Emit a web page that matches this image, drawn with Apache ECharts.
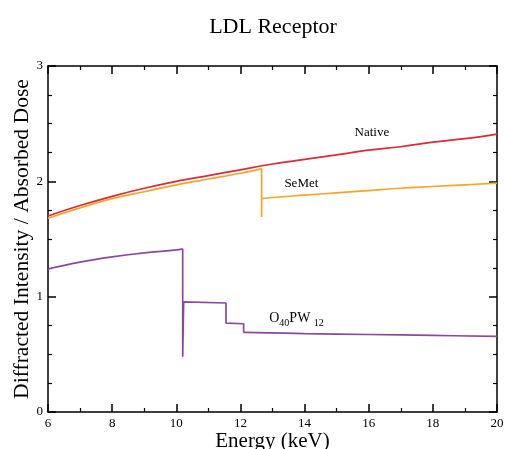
<!DOCTYPE html>
<html><head><meta charset="utf-8">
<script src="https://cdn.jsdelivr.net/npm/echarts@6/dist/echarts.min.js"></script>
<style>html,body{margin:0;padding:0;background:#fff}#c{width:505px;height:449px}</style>
</head><body><div id="c"></div>
<script>
// Native
const nativeX = [6,7,8,9,10,11,12,13,14,15,16,17,18,19,20];
const nativeY = [1.70,1.79,1.87,1.94,2.00,2.05,2.10,2.15,2.19,2.23,2.27,2.30,2.34,2.37,2.41];
// SeMet (before edge, edge jump, after edge)
const semetPreX = [6,7,8,9,10,11,12,12.66];
const semetPreY = [1.68,1.77,1.85,1.91,1.97,2.02,2.07,2.11];
const semetEdgeX = [12.66,12.66,12.66];
const semetEdgeY = [2.11,1.69,1.85];
const semetPostX = [12.66,13,14,15,16,17,18,19,20];
const semetPostY = [1.85,1.86,1.88,1.90,1.92,1.94,1.955,1.97,1.985];
// O40PW12 (before edge, edges, after edge)
const polyPreX = [6,7,8,9,10,10.2];
const polyPreY = [1.24,1.30,1.345,1.38,1.405,1.415];
const polyEdgeX = [10.2,10.2,10.23,11.55,11.55,12.1,12.1];
const polyEdgeY = [1.415,0.48,0.955,0.945,0.77,0.765,0.69];
const polyPostX = [12.1,14,16,18,20];
const polyPostY = [0.69,0.68,0.672,0.664,0.655];
// axis ticks
const xMin = 6, xMax = 20, xStep = 2;
const yMin = 0, yMax = 3, yStep = 1;
// labels
const chartTitle = 'LDL Receptor';
const xTitle = 'Energy (keV)';
const yTitle = 'Diffracted Intensity / Absorbed Dose';

const zip = (xs, ys) => xs.map((x, i) => [x, ys[i]]);
const serif = '"Liberation Serif", "DejaVu Serif", serif';
const RED = '#dc2a36', ORANGE = '#f2a72a', PURPLE = '#8a4a9c';

function lineSeries(data, color, smooth, extra) {
  return Object.assign({
    type: 'line', data: data, symbol: 'none', smooth: smooth,
    lineStyle: { color: color, width: 1.7 }, itemStyle: { color: color },
    animation: false, z: 3
  }, extra || {});
}
function labelPoint(coord, text, fontSize, rich) {
  return {
    symbol: 'circle', symbolSize: 1, itemStyle: { color: 'rgba(0,0,0,0)' },
    label: { show: true, position: 'inside', color: '#000', fontFamily: serif, fontSize: fontSize, formatter: text, rich: rich || {} },
    data: [{ coord: coord }]
  };
}

const chart = echarts.init(document.getElementById('c'), null, { renderer: 'canvas' });
const axisCommon = {
  axisLine: { show: true, onZero: false, lineStyle: { color: '#000', width: 1.5 } },
  axisTick: { show: true, inside: true, length: 8, lineStyle: { color: '#000', width: 1.5 } },
  minorTick: { show: true, length: 4, lineStyle: { color: '#000', width: 1.2 } },
  splitLine: { show: false }
};
chart.setOption({
  backgroundColor: '#fff',
  title: { text: chartTitle, left: 268, top: 11, textAlign: 'center',
    textStyle: { fontFamily: serif, fontSize: 22, fontWeight: 'normal', color: '#000' } },
  grid: { left: 48, right: 8, top: 66, bottom: 37, containLabel: false, outerBoundsMode: 'none' },
  xAxis: [
    Object.assign({}, axisCommon, { type: 'value', min: xMin, max: xMax, interval: xStep,
      minorTick: Object.assign({}, axisCommon.minorTick, { splitNumber: 2 }),
      axisLabel: { color: '#000', fontFamily: serif, fontSize: 13, margin: 5 },
      name: xTitle, nameLocation: 'middle', nameGap: 19, nameMoveOverlap: false,
      nameTextStyle: { color: '#000', fontFamily: serif, fontSize: 21 } }),
    Object.assign({}, axisCommon, { type: 'value', position: 'top', min: xMin, max: xMax, interval: xStep,
      minorTick: Object.assign({}, axisCommon.minorTick, { splitNumber: 2 }),
      axisLabel: { show: false } })
  ],
  yAxis: [
    Object.assign({}, axisCommon, { type: 'value', min: yMin, max: yMax, interval: yStep,
      minorTick: Object.assign({}, axisCommon.minorTick, { splitNumber: 4 }),
      axisLabel: { color: '#000', fontFamily: serif, fontSize: 13, margin: 5 },
      name: yTitle, nameLocation: 'middle', nameGap: 15, nameMoveOverlap: false,
      nameTextStyle: { color: '#000', fontFamily: serif, fontSize: 21.6 } }),
    Object.assign({}, axisCommon, { type: 'value', position: 'right', min: yMin, max: yMax, interval: yStep,
      minorTick: Object.assign({}, axisCommon.minorTick, { splitNumber: 4 }),
      axisLabel: { show: false } })
  ],
  series: [
    lineSeries(zip(nativeX, nativeY), RED, 0.4, { z: 4, markPoint: labelPoint([16.1, 2.42], 'Native', 13) }),
    lineSeries(zip(semetPreX, semetPreY), ORANGE, 0.4),
    lineSeries(zip(semetEdgeX, semetEdgeY), ORANGE, false),
    lineSeries(zip(semetPostX, semetPostY), ORANGE, 0.4, { markPoint: labelPoint([13.9, 1.98], 'SeMet', 13) }),
    lineSeries(zip(polyPreX, polyPreY), PURPLE, 0.4),
    lineSeries(zip(polyEdgeX, polyEdgeY), PURPLE, false),
    lineSeries(zip(polyPostX, polyPostY), PURPLE, 0.4, { markPoint: labelPoint([13.75, 0.81],
      'O{s|40}PW {s|12}', 14, { s: { fontFamily: serif, fontSize: 10, padding: [9, 0, 0, 0] } }) })
  ]
});
</script></body></html>
